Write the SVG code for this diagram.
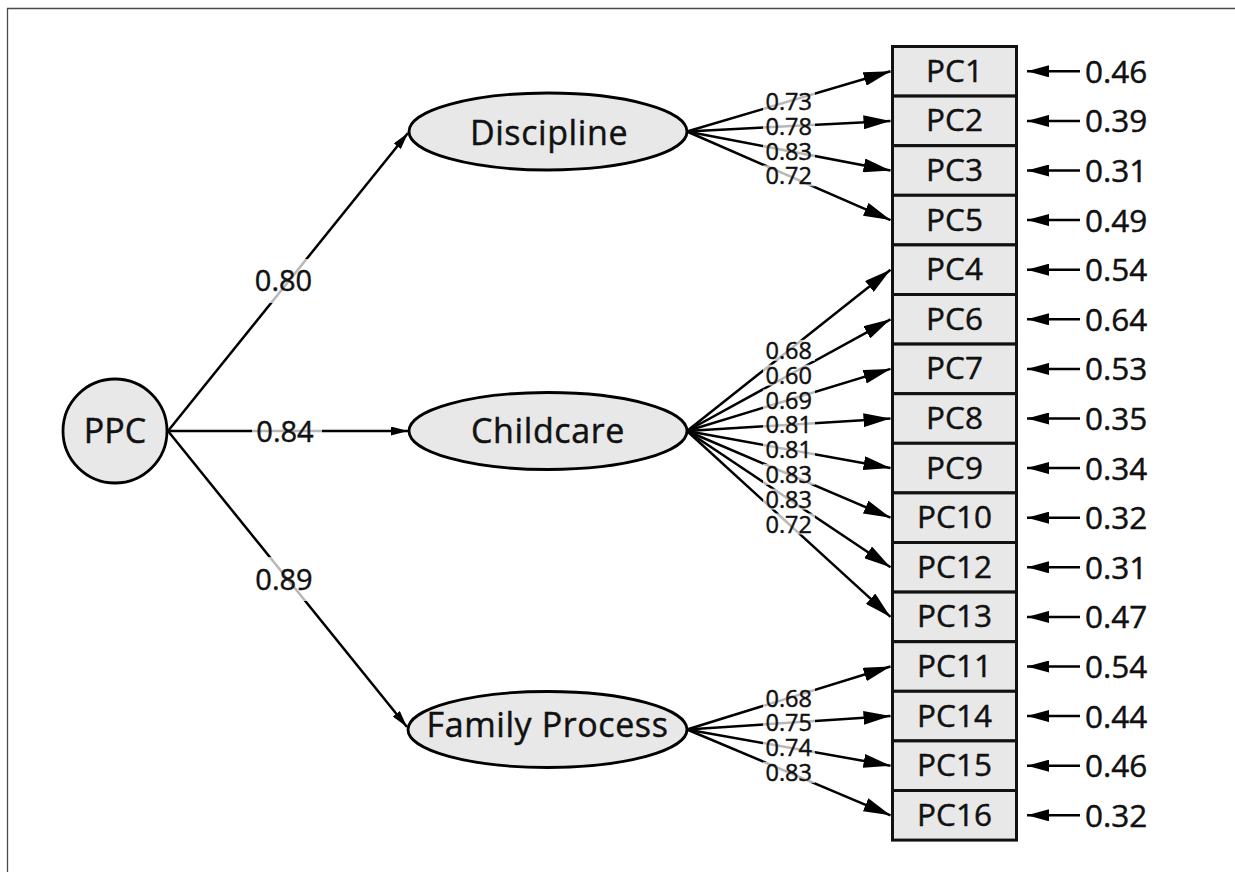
<svg xmlns="http://www.w3.org/2000/svg" width="1235" height="872" viewBox="0 0 1235 872">
<defs>
<style>
.t{font-family:"Open Sans","Noto Sans","Liberation Sans",sans-serif;fill:#111;stroke:#111;stroke-width:0.45}
.ln{stroke:#000;stroke-width:2.5;fill:none}
.box{fill:#e8e8e8;stroke:#111;stroke-width:3}
.lat{fill:#e8e8e8;stroke:#000;stroke-width:2.8}
.lbg{fill:#fff;fill-opacity:0.72}
.ld{font-size:23.5px;text-anchor:middle}
.pc{font-size:31.5px;text-anchor:middle}
.ev{font-size:31.5px}
.lv{font-size:34px;letter-spacing:0.6px;text-anchor:middle}
.pp{font-size:29px;text-anchor:middle}
</style>
<marker id="aL" markerUnits="userSpaceOnUse" markerWidth="27" markerHeight="14" refX="27" refY="7" orient="auto"><path d="M0,0 L27,7 L0,14 z" fill="#000"/></marker>
<marker id="aM" markerUnits="userSpaceOnUse" markerWidth="22" markerHeight="12" refX="22" refY="6" orient="auto"><path d="M0,0 L22,6 L0,12 z" fill="#000"/></marker>
<marker id="aS" markerUnits="userSpaceOnUse" markerWidth="17" markerHeight="9" refX="17" refY="4.5" orient="auto"><path d="M0,0 L17,4.5 L0,9 z" fill="#000"/></marker>
</defs>
<rect x="0" y="0" width="1235" height="872" fill="#fff"/>
<path d="M7.5,872 V8.5 H1235" fill="none" stroke="#4a4a4a" stroke-width="1.3"/>
<g id="connectors">
<path class="ln" marker-end="url(#aS)" d="M168,431 L408,133"/>
<path class="ln" marker-end="url(#aS)" d="M168,431 L408,431"/>
<path class="ln" marker-end="url(#aS)" d="M168,431 L407,727"/>
<path class="ln" marker-end="url(#aL)" d="M687,131.5 L890.5,71.3"/>
<path class="ln" marker-end="url(#aL)" d="M687,131.5 L890.5,120.9"/>
<path class="ln" marker-end="url(#aL)" d="M687,131.5 L890.5,170.5"/>
<path class="ln" marker-end="url(#aL)" d="M687,131.5 L890.5,220.1"/>
<path class="ln" marker-end="url(#aL)" d="M687,431 L890.5,269.7"/>
<path class="ln" marker-end="url(#aL)" d="M687,431 L890.5,319.3"/>
<path class="ln" marker-end="url(#aL)" d="M687,431 L890.5,368.9"/>
<path class="ln" marker-end="url(#aL)" d="M687,431 L890.5,418.5"/>
<path class="ln" marker-end="url(#aL)" d="M687,431 L890.5,468.1"/>
<path class="ln" marker-end="url(#aL)" d="M687,431 L890.5,517.7"/>
<path class="ln" marker-end="url(#aL)" d="M687,431 L890.5,567.3"/>
<path class="ln" marker-end="url(#aL)" d="M687,431 L890.5,616.9"/>
<path class="ln" marker-end="url(#aL)" d="M687,729.5 L890.5,666.5"/>
<path class="ln" marker-end="url(#aL)" d="M687,729.5 L890.5,716.1"/>
<path class="ln" marker-end="url(#aL)" d="M687,729.5 L890.5,765.7"/>
<path class="ln" marker-end="url(#aL)" d="M687,729.5 L890.5,815.3"/>
<path class="ln" marker-end="url(#aM)" d="M1080,71.3 H1027"/>
<path class="ln" marker-end="url(#aM)" d="M1080,120.9 H1027"/>
<path class="ln" marker-end="url(#aM)" d="M1080,170.5 H1027"/>
<path class="ln" marker-end="url(#aM)" d="M1080,220.1 H1027"/>
<path class="ln" marker-end="url(#aM)" d="M1080,269.7 H1027"/>
<path class="ln" marker-end="url(#aM)" d="M1080,319.3 H1027"/>
<path class="ln" marker-end="url(#aM)" d="M1080,368.9 H1027"/>
<path class="ln" marker-end="url(#aM)" d="M1080,418.5 H1027"/>
<path class="ln" marker-end="url(#aM)" d="M1080,468.1 H1027"/>
<path class="ln" marker-end="url(#aM)" d="M1080,517.7 H1027"/>
<path class="ln" marker-end="url(#aM)" d="M1080,567.3 H1027"/>
<path class="ln" marker-end="url(#aM)" d="M1080,616.9 H1027"/>
<path class="ln" marker-end="url(#aM)" d="M1080,666.5 H1027"/>
<path class="ln" marker-end="url(#aM)" d="M1080,716.1 H1027"/>
<path class="ln" marker-end="url(#aM)" d="M1080,765.7 H1027"/>
<path class="ln" marker-end="url(#aM)" d="M1080,815.3 H1027"/>
</g>
<g id="connector-labels">
<rect class="lbg" x="250" y="259" width="70" height="44"/>
<rect class="lbg" x="252" y="415" width="70" height="32"/>
<rect class="lbg" x="251" y="557" width="70" height="44"/>
<text class="t pp" x="283.5" y="291.4">0.80</text>
<text class="t pp" x="285" y="441.5">0.84</text>
<text class="t pp" x="284" y="589.5">0.89</text>
<rect class="lbg" x="763" y="90.9" width="52" height="21"/>
<rect class="lbg" x="763" y="115.7" width="52" height="21"/>
<rect class="lbg" x="763" y="140.5" width="52" height="21"/>
<rect class="lbg" x="763" y="165.3" width="52" height="21"/>
<rect class="lbg" x="763" y="339.85" width="52" height="21"/>
<rect class="lbg" x="763" y="364.65" width="52" height="21"/>
<rect class="lbg" x="763" y="389.45" width="52" height="21"/>
<rect class="lbg" x="763" y="414.25" width="52" height="21"/>
<rect class="lbg" x="763" y="439.05" width="52" height="21"/>
<rect class="lbg" x="763" y="463.85" width="52" height="21"/>
<rect class="lbg" x="763" y="488.65" width="52" height="21"/>
<rect class="lbg" x="763" y="513.45" width="52" height="21"/>
<rect class="lbg" x="763" y="687.5" width="52" height="21"/>
<rect class="lbg" x="763" y="712.3" width="52" height="21"/>
<rect class="lbg" x="763" y="737.1" width="52" height="21"/>
<rect class="lbg" x="763" y="761.9" width="52" height="21"/>
<text class="t ld" x="788.75" y="110">0.73</text>
<text class="t ld" x="788.75" y="134.8">0.78</text>
<text class="t ld" x="788.75" y="159.6">0.83</text>
<text class="t ld" x="788.75" y="184.4">0.72</text>
<text class="t ld" x="788.75" y="359">0.68</text>
<text class="t ld" x="788.75" y="383.8">0.60</text>
<text class="t ld" x="788.75" y="408.6">0.69</text>
<text class="t ld" x="788.75" y="433.4">0.81</text>
<text class="t ld" x="788.75" y="458.2">0.81</text>
<text class="t ld" x="788.75" y="483">0.83</text>
<text class="t ld" x="788.75" y="507.8">0.83</text>
<text class="t ld" x="788.75" y="532.6">0.72</text>
<text class="t ld" x="788.75" y="706.6">0.68</text>
<text class="t ld" x="788.75" y="731.4">0.75</text>
<text class="t ld" x="788.75" y="756.2">0.74</text>
<text class="t ld" x="788.75" y="781">0.83</text>
</g>
<g id="error-values">
<text class="t ev" x="1085" y="82.7">0.46</text>
<text class="t ev" x="1085" y="132.3">0.39</text>
<text class="t ev" x="1085" y="181.9">0.31</text>
<text class="t ev" x="1085" y="231.5">0.49</text>
<text class="t ev" x="1085" y="281.1">0.54</text>
<text class="t ev" x="1085" y="330.7">0.64</text>
<text class="t ev" x="1085" y="380.3">0.53</text>
<text class="t ev" x="1085" y="429.9">0.35</text>
<text class="t ev" x="1085" y="479.5">0.34</text>
<text class="t ev" x="1085" y="529.1">0.32</text>
<text class="t ev" x="1085" y="578.7">0.31</text>
<text class="t ev" x="1085" y="628.3">0.47</text>
<text class="t ev" x="1085" y="677.9">0.54</text>
<text class="t ev" x="1085" y="727.5">0.44</text>
<text class="t ev" x="1085" y="777.1">0.46</text>
<text class="t ev" x="1085" y="826.7">0.32</text>
</g>
<g id="PPC"><circle class="lat" cx="115" cy="431" r="52"/><text class="t" x="115" y="442.7" font-size="34" text-anchor="middle">PPC</text></g>
<g id="Discipline"><ellipse class="lat" cx="548" cy="131.5" rx="139" ry="38.5"/><text class="t lv" x="549" y="145">Discipline</text></g>
<g id="Childcare"><ellipse class="lat" cx="548" cy="431" rx="139" ry="38.5"/><text class="t lv" x="548" y="443">Childcare</text></g>
<g id="FamilyProcess"><ellipse class="lat" cx="547.5" cy="729.5" rx="139.5" ry="38"/><text class="t lv" x="547.5" y="737">Family Process</text></g>
<g id="PC1"><rect class="box" x="892.5" y="46.5" width="124" height="49.6"/><text class="t pc" x="954.5" y="81.8">PC1</text></g>
<g id="PC2"><rect class="box" x="892.5" y="96.1" width="124" height="49.6"/><text class="t pc" x="954.5" y="131.4">PC2</text></g>
<g id="PC3"><rect class="box" x="892.5" y="145.7" width="124" height="49.6"/><text class="t pc" x="954.5" y="181">PC3</text></g>
<g id="PC5"><rect class="box" x="892.5" y="195.3" width="124" height="49.6"/><text class="t pc" x="954.5" y="230.6">PC5</text></g>
<g id="PC4"><rect class="box" x="892.5" y="244.9" width="124" height="49.6"/><text class="t pc" x="954.5" y="280.2">PC4</text></g>
<g id="PC6"><rect class="box" x="892.5" y="294.5" width="124" height="49.6"/><text class="t pc" x="954.5" y="329.8">PC6</text></g>
<g id="PC7"><rect class="box" x="892.5" y="344.1" width="124" height="49.6"/><text class="t pc" x="954.5" y="379.4">PC7</text></g>
<g id="PC8"><rect class="box" x="892.5" y="393.7" width="124" height="49.6"/><text class="t pc" x="954.5" y="429">PC8</text></g>
<g id="PC9"><rect class="box" x="892.5" y="443.3" width="124" height="49.6"/><text class="t pc" x="954.5" y="478.6">PC9</text></g>
<g id="PC10"><rect class="box" x="892.5" y="492.9" width="124" height="49.6"/><text class="t pc" x="954.5" y="528.2">PC10</text></g>
<g id="PC12"><rect class="box" x="892.5" y="542.5" width="124" height="49.6"/><text class="t pc" x="954.5" y="577.8">PC12</text></g>
<g id="PC13"><rect class="box" x="892.5" y="592.1" width="124" height="49.6"/><text class="t pc" x="954.5" y="627.4">PC13</text></g>
<g id="PC11"><rect class="box" x="892.5" y="641.7" width="124" height="49.6"/><text class="t pc" x="954.5" y="677">PC11</text></g>
<g id="PC14"><rect class="box" x="892.5" y="691.3" width="124" height="49.6"/><text class="t pc" x="954.5" y="726.6">PC14</text></g>
<g id="PC15"><rect class="box" x="892.5" y="740.9" width="124" height="49.6"/><text class="t pc" x="954.5" y="776.2">PC15</text></g>
<g id="PC16"><rect class="box" x="892.5" y="790.5" width="124" height="49.6"/><text class="t pc" x="954.5" y="825.8">PC16</text></g>
</svg>
